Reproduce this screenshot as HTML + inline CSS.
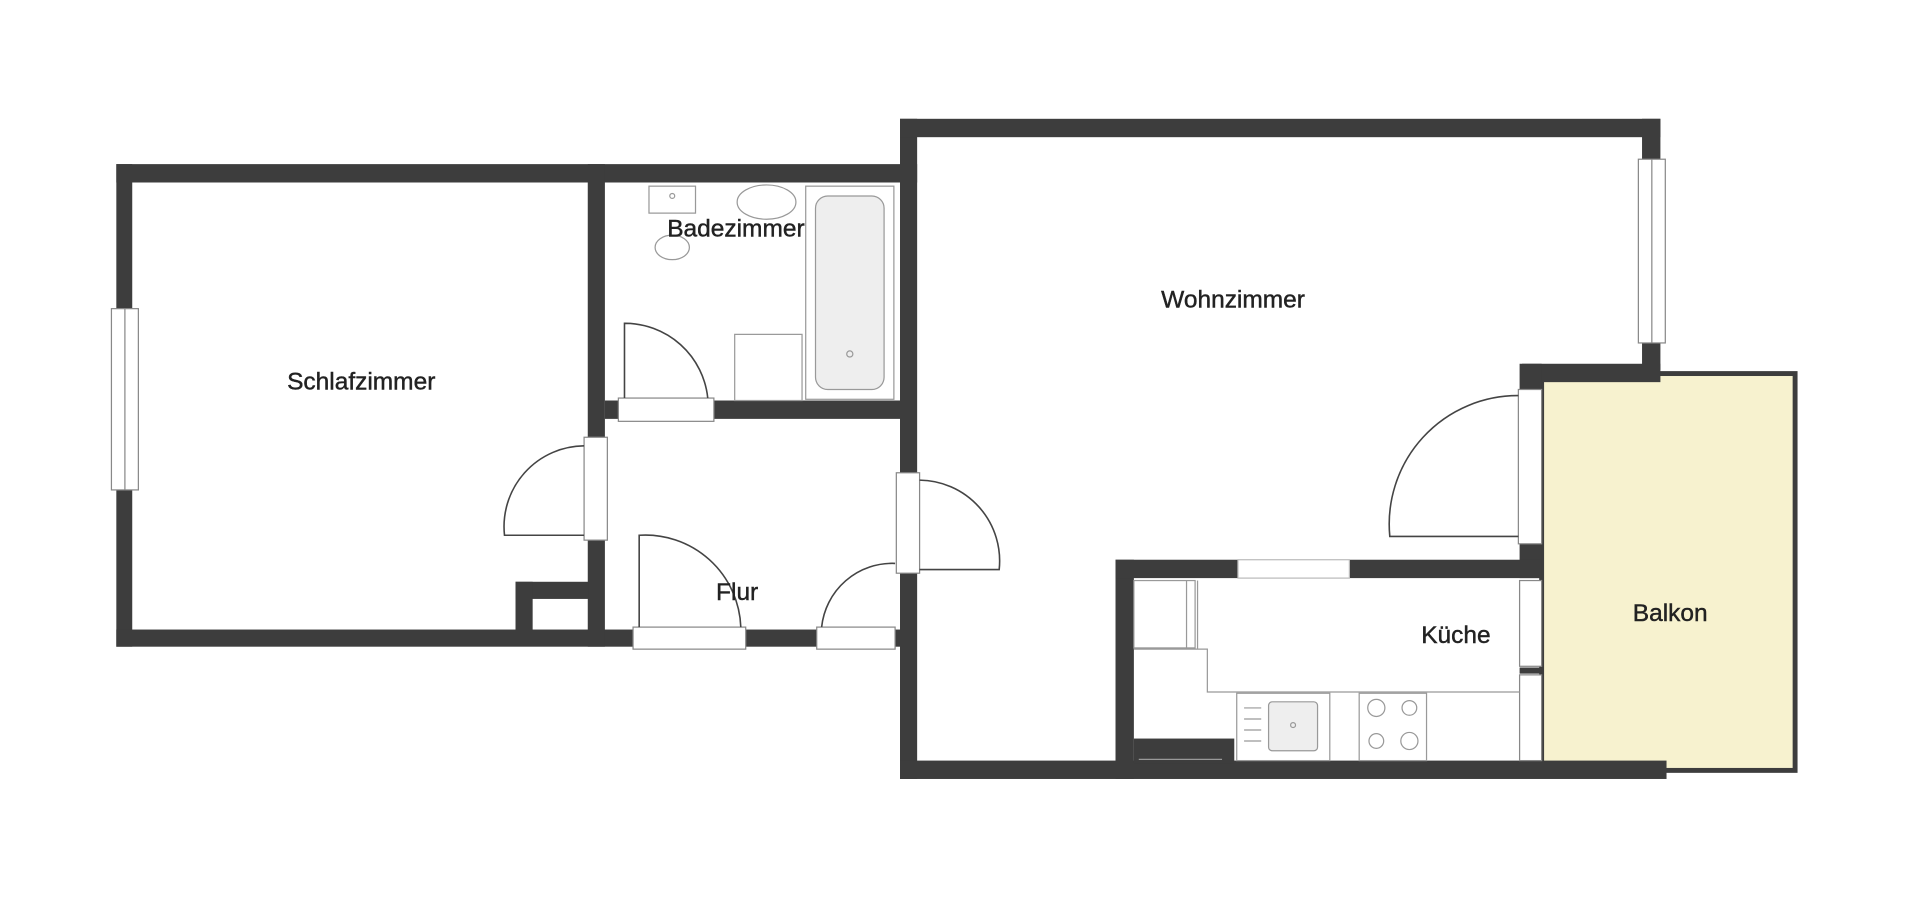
<!DOCTYPE html>
<html><head><meta charset="utf-8"><style>
html,body{margin:0;padding:0;background:#fff;width:1920px;height:899px;overflow:hidden}
svg{display:block}
text{font-family:"Liberation Sans",sans-serif;font-size:20px;fill:#222;stroke:#222;stroke-width:0.35;text-anchor:middle}
</style></head><body>
<svg width="1920" height="899" viewBox="0 0 1568 734" preserveAspectRatio="none">
<!-- Balkon -->
<rect x="1259" y="305" width="207" height="324" fill="#f7f2cf" stroke="#3d3d3d" stroke-width="4"/>
<g fill="#3d3d3d">
<rect x="95" y="134" width="654" height="15"/>
<rect x="95" y="134" width="13" height="394"/>
<rect x="95" y="514" width="640" height="14"/>
<rect x="480" y="134" width="14" height="394"/>
<rect x="494" y="327" width="241" height="15"/>
<rect x="421" y="475" width="60" height="14"/>
<rect x="421" y="475" width="14" height="40"/>
<rect x="735" y="97" width="14" height="539"/>
<rect x="735" y="97" width="621" height="15"/>
<rect x="1341" y="97" width="15" height="205"/>
<rect x="1243" y="297" width="113" height="15"/>
<rect x="1241" y="297" width="18" height="175"/>
<rect x="735" y="621" width="626" height="15"/>
<rect x="911" y="457" width="15" height="179"/>
<rect x="911" y="457" width="348" height="15"/>
<rect x="926" y="603" width="82" height="20"/>
<rect x="1241" y="545" width="18" height="5"/>
</g>
<g fill="#fff" stroke="#888" stroke-width="1">
<rect x="91" y="252" width="22" height="148"/>
<line x1="102" y1="252" x2="102" y2="400"/>
<rect x="1338" y="130" width="22" height="150"/>
<line x1="1349" y1="130" x2="1349" y2="280"/>
<rect x="1011" y="457" width="91" height="15" stroke="#bbb"/>
<rect x="505" y="325" width="78" height="19"/>
<rect x="477" y="357" width="19" height="84"/>
<rect x="517" y="512" width="92" height="18"/>
<rect x="667" y="512" width="64" height="18"/>
<rect x="732" y="386" width="19" height="82"/>
<rect x="1240" y="318" width="19" height="126"/>
<rect x="1241" y="474" width="18" height="70"/>
<rect x="1241" y="551" width="18" height="70"/>
</g>
<g fill="none" stroke="#444" stroke-width="1.3">
<path d="M510 325 V264 A68 68 0 0 1 578 325"/>
<path d="M477 364 A66 66 0 0 0 412 437 H477"/>
<path d="M522 512 V437 A78 78 0 0 1 605 512"/>
<path d="M731 460 A58 58 0 0 0 671 512"/>
<path d="M751 392 A66 66 0 0 1 816 465 H751"/>
<path d="M1240 323 A105 105 0 0 0 1135 438 H1240"/>
</g>
<g fill="none" stroke="#999" stroke-width="1">
<rect x="530" y="152" width="38" height="22"/>
<circle cx="549" cy="160" r="2"/>
<ellipse cx="549" cy="202" rx="14" ry="10"/>
<ellipse cx="626" cy="165" rx="24" ry="14"/>
<rect x="600" y="273" width="55" height="54"/>
<rect x="658" y="152" width="72" height="174"/>
<rect x="666" y="160" width="56" height="158" rx="10" fill="#eee"/>
<circle cx="694" cy="289" r="2.5"/>
<rect x="926" y="474" width="50" height="55"/>
<line x1="969" y1="474" x2="969" y2="529"/>
<path d="M926 530 H986 V565 H1241"/>
<path d="M978 474 V530"/>
<rect x="1010" y="566" width="76" height="55"/>
<rect x="1036" y="573" width="40" height="40" rx="3" fill="#eee"/>
<circle cx="1056" cy="592" r="2"/>
<path d="M1016 578 H1030 M1016 587 H1030 M1016 596 H1030 M1016 605 H1030"/>
<rect x="1110" y="566" width="55" height="55"/>
<circle cx="1124" cy="578" r="7"/><circle cx="1151" cy="578" r="6"/>
<circle cx="1124" cy="605" r="6"/><circle cx="1151" cy="605" r="7"/>
<line x1="930" y1="620" x2="998" y2="620"/>
</g>
<text x="295" y="318">Schlafzimmer</text>
<text x="601" y="193">Badezimmer</text>
<text x="1007" y="251">Wohnzimmer</text>
<text x="602" y="490">Flur</text>
<text x="1189" y="525">Küche</text>
<text x="1364" y="507">Balkon</text>
</svg>
</body></html>
